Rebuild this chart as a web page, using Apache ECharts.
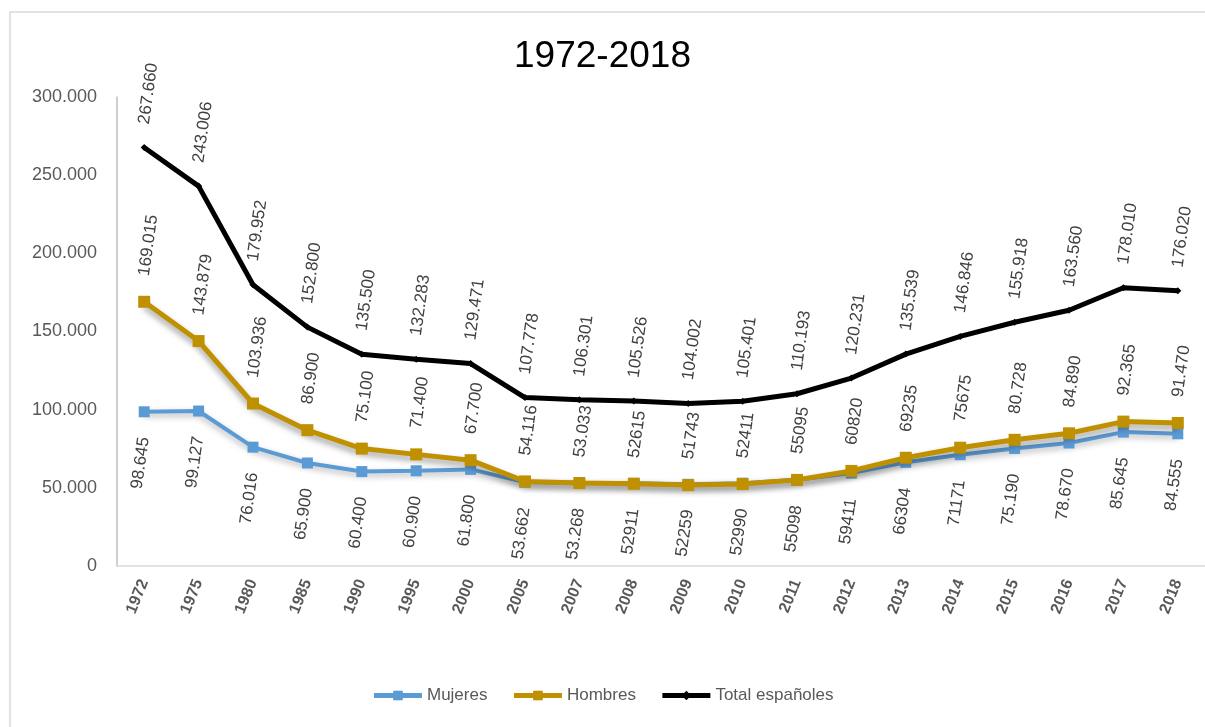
<!DOCTYPE html>
<html lang="es">
<head>
    <meta charset="UTF-8">
    <title>1972-2018</title>
    <script src="https://cdn.jsdelivr.net/npm/echarts@6/dist/echarts.min.js"></script>
    <style>
        body { margin: 0; background: #fff; }
        #main { width: 1205px; height: 727px; }
    </style>
</head>
<body>
<div id="main"></div>
<script type="text/javascript">
    const years = ['1972', '1975', '1980', '1985', '1990', '1995', '2000', '2005', '2007', '2008',
        '2009', '2010', '2011', '2012', '2013', '2014', '2015', '2016', '2017', '2018']
    const mujeres = [98645, 99127, 76016, 65900, 60400, 60900, 61800, 53662, 53268, 52911,
        52259, 52990, 55098, 59411, 66304, 71171, 75190, 78670, 85645, 84555]
    const hombres = [169015, 143879, 103936, 86900, 75100, 71400, 67700, 54116, 53033, 52615,
        51743, 52411, 55095, 60820, 69235, 75675, 80728, 84890, 92365, 91470]
    const total = [267660, 243006, 179952, 152800, 135500, 132283, 129471, 107778, 106301, 105526,
        104002, 105401, 110193, 120231, 135539, 146846, 155918, 163560, 178010, 176020]
    // en el original estos años salen sin punto de miles (solo mujeres/hombres)
    const sinPunto = ['2008', '2009', '2010', '2011', '2012', '2013', '2014']

    const FONT = 'Liberation Sans'
    const puntos = (v) => String(v).replace(/\B(?=(\d{3})+(?!\d))/g, '.')

    var myChart = echarts.init(document.getElementById('main'));

    function etiqueta(pos, align, plain) {
        return {
            show: true,
            position: pos,
            distance: 20,
            rotate: 82,
            align: align,
            verticalAlign: 'middle',
            color: '#404040',
            fontFamily: FONT,
            fontSize: 17,
            formatter: (p) => (plain && sinPunto.includes(p.name)) ? String(p.value) : puntos(p.value)
        }
    }

    var option = {
        animation: false,
        textStyle: { fontFamily: FONT },
        graphic: [{
            type: 'rect',
            shape: { x: 10, y: 12, width: 1200, height: 720 },
            style: { fill: 'none', stroke: '#d9d9d9', lineWidth: 1.5 }
        }],
        title: {
            text: '1972-2018',
            left: 'center',
            top: 33,
            textStyle: { fontFamily: FONT, fontSize: 37, fontWeight: 'normal', color: '#000' }
        },
        legend: {
            bottom: 18,
            left: 'center',
            itemGap: 24,
            itemWidth: 48,
            itemHeight: 12,
            lineStyle: { width: 5 },
            textStyle: { fontFamily: FONT, fontSize: 17, color: '#595959' },
            data: ['Mujeres', 'Hombres', 'Total españoles']
        },
        grid: { left: 117, top: 97, width: 1093, height: 469 },
        xAxis: {
            type: 'category',
            data: years,
            axisLine: { lineStyle: { color: '#d9d9d9', width: 1.5 } },
            axisTick: { show: false },
            axisLabel: {
                rotate: 68,
                interval: 0,
                margin: 14,
                color: '#595959',
                fontWeight: 'bold',
                fontSize: 16,
                fontFamily: FONT
            }
        },
        yAxis: {
            type: 'value',
            min: 0,
            max: 300000,
            interval: 50000,
            splitLine: { show: false },
            axisLine: { show: true, lineStyle: { color: '#bfbfbf', width: 1.5 } },
            axisTick: { show: false },
            axisLabel: {
                color: '#595959',
                fontSize: 18,
                fontFamily: FONT,
                margin: 20,
                formatter: (v) => puntos(v)
            }
        },
        series: [
            {
                name: 'Mujeres',
                type: 'line',
                data: mujeres,
                symbol: 'rect',
                symbolSize: 11,
                color: '#5b9bd5',
                lineStyle: { width: 4, shadowColor: 'rgba(0,0,0,0.3)', shadowBlur: 6, shadowOffsetY: 3 },
                label: etiqueta('bottom', 'right', true),
                z: 2
            },
            {
                name: 'Hombres',
                type: 'line',
                data: hombres,
                symbol: 'rect',
                symbolSize: 12,
                color: '#bf9000',
                lineStyle: { width: 5, shadowColor: 'rgba(0,0,0,0.4)', shadowBlur: 6, shadowOffsetY: 4 },
                label: etiqueta('top', 'left', true),
                z: 3
            },
            {
                name: 'Total españoles',
                type: 'line',
                data: total,
                symbol: 'diamond',
                symbolSize: 7,
                color: '#000000',
                lineStyle: { width: 5 },
                label: etiqueta('top', 'left', false),
                z: 4
            }
        ]
    };

    myChart.setOption(option);
</script>
</body>
</html>
